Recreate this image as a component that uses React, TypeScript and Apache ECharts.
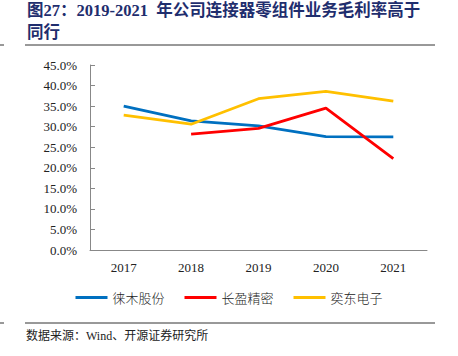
import React, { useEffect, useRef } from "react";
import * as echarts from "echarts";

const years = ["2017", "2018", "2019", "2020", "2021"];
const laimu = [35.0, 31.4, 30.2, 27.6, 27.5];
const changying = [null, 28.2, 29.6, 34.5, 22.2];
const yidong = [32.8, 30.6, 36.8, 38.6, 36.2];
const seriesNames = ["徕木股份", "长盈精密", "奕东电子"];
const colors = ["#0070C0", "#FF0000", "#FFC000"];

export default function App() {
  const ref = useRef<HTMLDivElement>(null);
  useEffect(() => {
    const chart = echarts.init(ref.current!, null, { renderer: "svg" });
    const serif = "'Liberation Serif', 'Times New Roman', serif";
    const cjk = "'Noto Sans CJK SC', sans-serif";
    chart.setOption({
      animation: false,
      backgroundColor: "#fff",
      grid: { left: 90, right: 31, top: 65, bottom: 106 },
      graphic: [
        { type: "text", left: 27, top: 2, style: { text: "图27：2019-2021  年公司连接器零组件业务毛利率高于", fill: "#1F2E6E", font: "bold 16.5px 'Liberation Serif', 'Noto Sans CJK SC', serif" } },
        { type: "text", left: 27, top: 24, style: { text: "同行", fill: "#1F2E6E", font: "bold 16.5px 'Liberation Serif', 'Noto Sans CJK SC', serif" } },
        { type: "line", shape: { x1: 25, y1: 45, x2: 435, y2: 45 }, style: { stroke: "#333", lineWidth: 1 } },
        { type: "line", shape: { x1: 0, y1: 45, x2: 4, y2: 45 }, style: { stroke: "#333", lineWidth: 1 } },
        { type: "line", shape: { x1: 25, y1: 323, x2: 435, y2: 323 }, style: { stroke: "#333", lineWidth: 1 } },
        { type: "line", shape: { x1: 0, y1: 323, x2: 4, y2: 323 }, style: { stroke: "#333", lineWidth: 1 } },
        { type: "text", left: 26, top: 330, style: { text: "数据来源：Wind、开源证券研究所", fill: "#222", font: "12px 'Liberation Serif', 'Noto Sans CJK SC', serif" } },
      ],
      legend: {
        data: seriesNames,
        bottom: 47,
        left: "center",
        icon: "rect",
        itemWidth: 32,
        itemHeight: 3,
        itemGap: 20,
        textStyle: { fontFamily: cjk, fontSize: 13, color: "#222", fontWeight: 300 },
      },
      xAxis: {
        type: "category",
        data: years,
        boundaryGap: true,
        axisLine: { lineStyle: { color: "#888" } },
        axisTick: { inside: true, length: 5, lineStyle: { color: "#888" } },
        axisLabel: { fontFamily: serif, fontSize: 13, color: "#222", margin: 11 },
      },
      yAxis: {
        type: "value",
        min: 0,
        max: 45,
        interval: 5,
        axisLine: { show: true, lineStyle: { color: "#888" } },
        axisTick: { show: true, inside: true, length: 5, lineStyle: { color: "#888" } },
        splitLine: { show: false },
        axisLabel: { fontFamily: serif, fontSize: 13, color: "#222", margin: 13, formatter: (v: number) => v.toFixed(1) + "%" },
      },
      series: [
        { name: seriesNames[0], type: "line", data: laimu, symbol: "none", lineStyle: { width: 2.8, color: colors[0] }, itemStyle: { color: colors[0] } },
        { name: seriesNames[1], type: "line", data: changying, symbol: "none", lineStyle: { width: 2.8, color: colors[1] }, itemStyle: { color: colors[1] } },
        { name: seriesNames[2], type: "line", data: yidong, symbol: "none", lineStyle: { width: 2.8, color: colors[2] }, itemStyle: { color: colors[2] } },
      ],
    });
    return () => chart.dispose();
  }, []);
  return <div ref={ref} style={{ width: 458, height: 356, position: "absolute", left: 0, top: 0 }} />;
}
